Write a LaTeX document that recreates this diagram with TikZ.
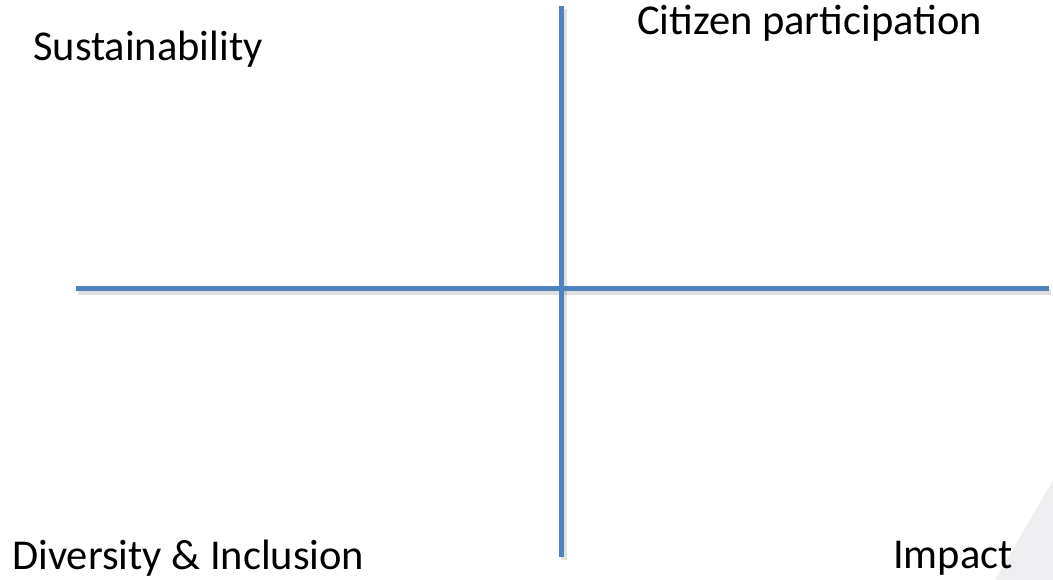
\documentclass[tikz,border=0pt]{standalone}
\usepackage{fontspec}
\setmainfont{Carlito}
\usetikzlibrary{positioning, calc}
\definecolor{axisblue}{RGB}{79,129,189}
\definecolor{cornergray}{RGB}{239,238,241}
\tikzset{
    label/.style={
            anchor=base west, % place labels by their baseline
            inner sep=0pt,
            font=\fontsize{42.5}{50}\selectfont,
        },
    axis/.style={
            draw=axisblue,
            line width=5pt, % thick blue axes
        },
    axisshadow/.style={
            draw=black,
            opacity=0.12,
            line width=6pt,
        },
}
\begin{document}
\begin{tikzpicture}[x=1pt, y=-1pt]
                \useasboundingbox (0,0) rectangle (1053,580);

                % corner decoration
                \fill[cornergray] (995,580) -- (1053,480) -- (1053,580) -- cycle;

                % axis ends
                \coordinate (top) at (561,6);
                \coordinate (bottom) at (561,557);
                \coordinate (left) at (76,288.5);
                \coordinate (right) at (1049,288.5);

                % labels
                \node[label] (sust) at (33,60.5) {Sustainability};
                \node[label] (citizen) at (637,35) {Citizen participation};
                \node[label] (divers) at (12,569) {Diversity \& Inclusion};
                \node[label] (impact) at (893,568.5) {Impact};

                % axes
                \draw[axisshadow] ($(left)+(2,4)$) -- ($(right)+(2,4)$);
                \draw[axisshadow] ($(top)+(3,3)$) -- ($(bottom)+(3,3)$);
                \draw[axis] (left) -- (right);
                \draw[axis] (top) -- (bottom);

        \end{tikzpicture}
\end{document}
